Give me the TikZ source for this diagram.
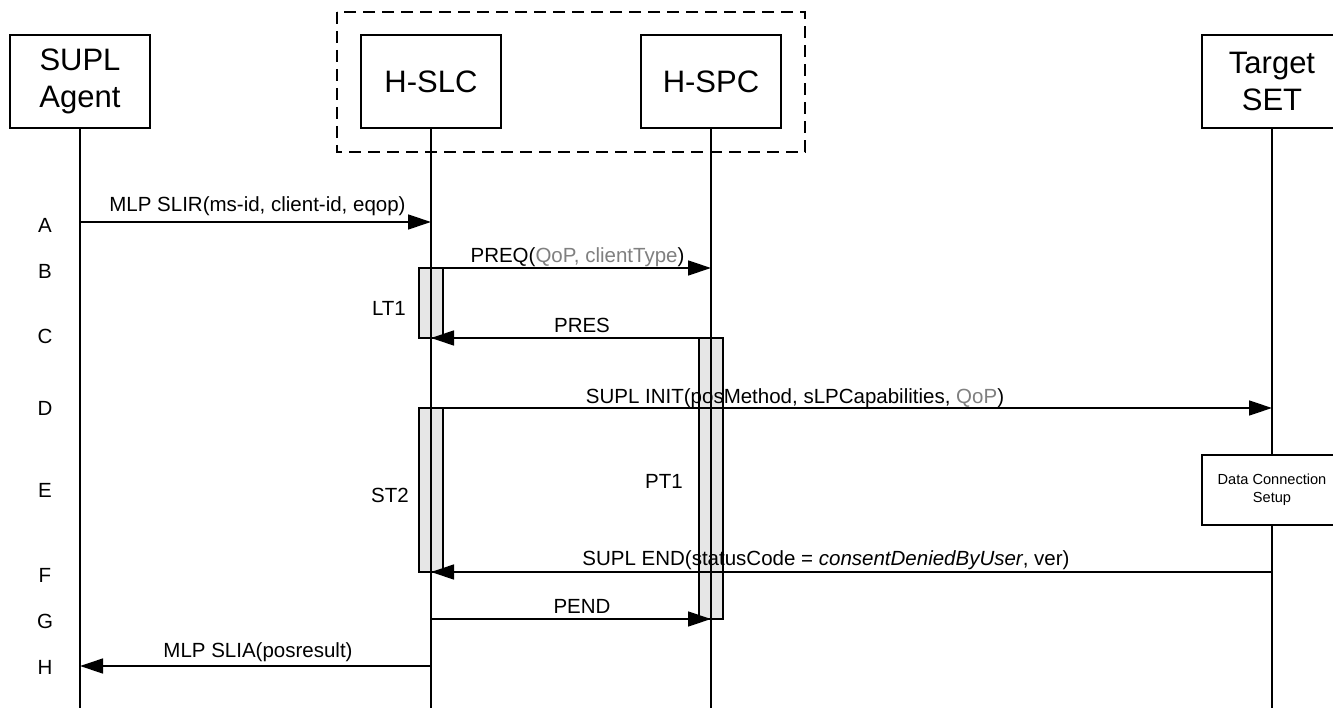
\documentclass[tikz,border=0pt]{standalone}
\usepackage{fontspec}
\setmainfont{Liberation Sans}
\usetikzlibrary{arrows.meta}
\definecolor{bargray}{RGB}{230,230,230}
\definecolor{txtgray}{RGB}{128,128,128}
\begin{document}
\begin{tikzpicture}[x=1pt,y=-1pt,
  ent/.style={draw, line width=1.3pt, minimum width=140pt, minimum height=93pt, inner sep=0pt,
    font=\fontsize{31}{37}\selectfont, align=center, fill=white},
  life/.style={line width=1.3pt},
  msg/.style={line width=1.3pt, -{Triangle[length=23pt,width=15pt]}},
  lbl/.style={font=\fontsize{20.5}{24}\selectfont, anchor=base, inner sep=0pt},
  tlbl/.style={font=\fontsize{20.5}{24}\selectfont, inner sep=0pt},
  actbar/.style={draw, fill=bargray, line width=1.3pt, minimum width=24pt, inner sep=0pt},
  rowl/.style={font=\fontsize{20.5}{24}\selectfont, inner sep=0pt},
  dcsbox/.style={draw, fill=white, line width=1.3pt, minimum width=140pt, minimum height=70pt,
    inner sep=0pt, align=center, font=\fontsize{14.6}{18}\selectfont},
  grp/.style={line width=1.3pt, dash pattern=on 12pt off 7pt}
]
\clip (0,0) rectangle (1333,708);
\fill[white] (0,0) rectangle (1333,708);
% group box
\draw[grp] (337,12) rectangle (805,152);
% entities
\node[ent] (agent) at (80,81.5) {SUPL\\Agent};
\node[ent] (slc) at (431,81.5) {H-SLC};
\node[ent] (spc) at (711,81.5) {H-SPC};
\node[ent] (target) at (1272,81.5) {Target\\SET};
\coordinate (bot) at (0,708);
% activation bars
\node[actbar, minimum height=70pt] (lt1bar) at (431,303) {};
\node[actbar, minimum height=281pt] (pt1bar) at (711,478.5) {};
\node[actbar, minimum height=164pt] (st2bar) at (431,490) {};
% lifelines
\draw[life] (agent.south) -- (agent.south |- bot);
\draw[life] (slc.south) -- (slc.south |- bot);
\draw[life] (spc.south) -- (spc.south |- bot);
\draw[life] (target.south) -- (target.south |- bot);
% data connection setup box
\node[dcsbox] (dcs) at (1272,490) {Data Connection\\Setup};
% rows
\coordinate (rA) at (0,222);
\coordinate (rB) at (0,268);
\coordinate (rC) at (0,338);
\coordinate (rD) at (0,408);
\coordinate (rF) at (0,572);
\coordinate (rG) at (0,619);
\coordinate (rH) at (0,666);
% messages
\draw[msg] (agent |- rA) -- (slc |- rA);
\draw[msg] (slc |- rB) -- (spc |- rB);
\draw[msg] (spc |- rC) -- (slc |- rC);
\draw[msg] (slc |- rD) -- (target |- rD);
\draw[msg] (target |- rF) -- (slc |- rF);
\draw[msg] (slc |- rG) -- (spc |- rG);
\draw[msg] (slc |- rH) -- (agent |- rH);
% message labels
\node[lbl] (lA) at (257.5,212) {MLP SLIR(ms-id, client-id, eqop)};
\node[lbl] (lB) at (577.5,263) {PREQ(\textcolor{txtgray}{QoP, clientType})};
\node[lbl] (lC) at (582,333) {PRES};
\node[lbl] (lD) at (795,403) {SUPL INIT(posMethod, sLPCapabilities, \textcolor{txtgray}{QoP})};
\node[lbl] (lF) at (826,565) {SUPL END(statusCode = \textit{consentDeniedByUser}, ver)};
\node[lbl] (lG) at (582,613) {PEND};
\node[lbl] (lH) at (258,657) {MLP SLIA(posresult)};
% timer labels
\node[tlbl, anchor=east] (tLT1) at (406,308) {LT1};
\node[tlbl, anchor=east] (tST2) at (409,495) {ST2};
\node[tlbl] (tPT1) at (664,481) {PT1};
% row letters
\node[rowl] (kA) at (45,225) {A};
\node[rowl] (kB) at (45,271) {B};
\node[rowl] (kC) at (45,336) {C};
\node[rowl] (kD) at (45,408) {D};
\node[rowl] (kE) at (45,490) {E};
\node[rowl] (kF) at (45,575) {F};
\node[rowl] (kG) at (45,621) {G};
\node[rowl] (kH) at (45,667) {H};
\end{tikzpicture}
\end{document}
